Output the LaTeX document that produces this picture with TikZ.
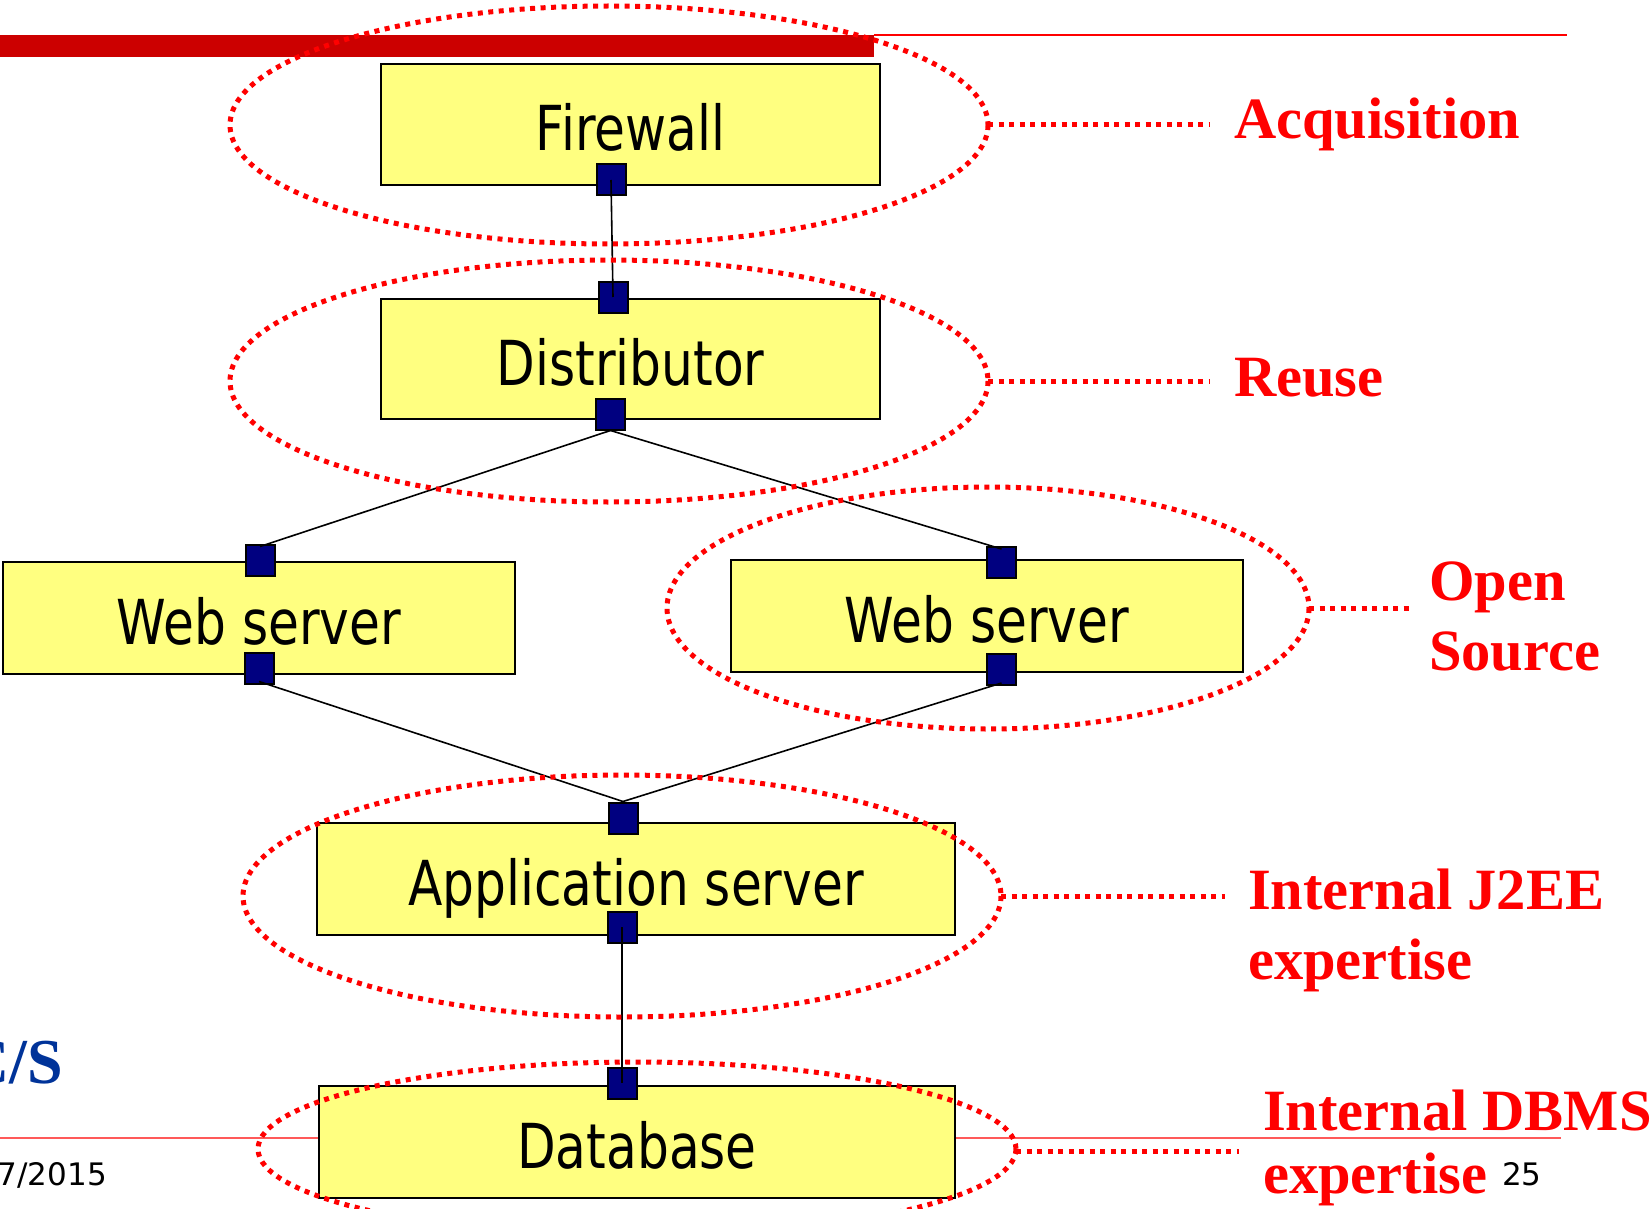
\documentclass[tikz,border=0pt]{standalone}
\usepackage{fontspec}
\setmainfont{Liberation Serif}
\newfontfamily\boxfont{DejaVu Sans}
\definecolor{boxfill}{HTML}{FFFF80}
\definecolor{portfill}{HTML}{000080}
\definecolor{barred}{HTML}{CC0000}
\definecolor{slideblue}{HTML}{003399}
\tikzset{
  tier/.style={draw=black, line width=2.5pt, fill=boxfill, rectangle, inner sep=0pt},
  tiertext/.style={anchor=base, inner sep=0pt, font=\boxfont\fontsize{62pt}{70pt}\selectfont},
  port/.style={draw=black, line width=2pt, fill=portfill, rectangle, inner sep=0pt,
    minimum width=29pt, minimum height=31pt},
  wire/.style={draw=black, line width=1.6pt},
  group/.style={draw=red, line width=5pt, dash pattern=on 5pt off 5.5pt},
  note/.style={anchor=base west, inner sep=0pt, text=red, align=left,
    font=\bfseries\fontsize{58.5pt}{70pt}\selectfont},
  foot/.style={inner sep=0pt, font=\boxfont\fontsize{31pt}{36pt}\selectfont}
}
\begin{document}
\begin{tikzpicture}[x=1pt,y=-1pt]
\useasboundingbox (0,0) rectangle (1651,1209);

% slide header and footer rules
\fill[barred] (0,35) rectangle (874,57);
\draw[red, line width=1.5pt] (874,35) -- (1567,35);
\draw[red!65, line width=1.5pt] (0,1138) -- (1561,1138);

% footer texts
\node[anchor=base east, inner sep=0pt, text=slideblue,
  font=\bfseries\fontsize{64pt}{70pt}\selectfont] (logo) at (63,1083) {C/S};
\node[foot, anchor=base east] (date) at (107,1185) {7/2015};
\node[foot, anchor=base west] (page) at (1502,1185) {25};

% tiers
\node[tier, minimum width=499pt, minimum height=121pt] (fw) at (630.5,124.5) {};
\node[tier, minimum width=499pt, minimum height=120pt] (di) at (630.5,359) {};
\node[tier, minimum width=512pt, minimum height=112pt] (w1) at (259,618) {};
\node[tier, minimum width=512pt, minimum height=112pt] (w2) at (987,616) {};
\node[tier, minimum width=638pt, minimum height=112pt] (ap) at (636,879) {};
\node[tier, minimum width=636pt, minimum height=112pt] (db) at (637,1142) {};

\node[tiertext] (fw-t) at (630.5,150.5) {\scalebox{0.81}[1]{Firewall}};
\node[tiertext] (di-t) at (630.5,385) {\scalebox{0.81}[1]{Distributor}};
\node[tiertext] (w1-t) at (259,644) {\scalebox{0.81}[1]{Web server}};
\node[tiertext] (w2-t) at (987,642) {\scalebox{0.81}[1]{Web server}};
\node[tiertext] (ap-t) at (636,905) {\scalebox{0.81}[1]{Application server}};
\node[tiertext] (db-t) at (637,1168) {\scalebox{0.81}[1]{Database}};

% ports
\node[port] (fw-b) at (611,180) {};
\node[port] (di-n) at (613,297) {};
\node[port] (di-s) at (610.5,414) {};
\node[port] (w1-n) at (260,560) {};
\node[port] (w1-s) at (259,668) {};
\node[port] (w2-n) at (1001.5,562.5) {};
\node[port] (w2-s) at (1001.5,669.5) {};
\node[port] (ap-n) at (623,818) {};
\node[port] (ap-s) at (622,927) {};
\node[port] (db-n) at (622,1083) {};

% links between ports
\draw[wire] (fw-b.center) -- (di-n.center);
\draw[wire] (ap-s.center) -- (db-n.center);
\draw[wire] (di-s.south) -- ([yshift=-3pt]w1-n.north);
\draw[wire] (di-s.south) -- ([yshift=-3pt]w2-n.north);
\draw[wire] ([yshift=3pt]w1-s.south) -- (ap-n.north);
\draw[wire] ([yshift=3pt]w2-s.south) -- (ap-n.north);

% sourcing groups
\draw[group] (609,125) ellipse [x radius=379, y radius=119];
\draw[group] (609,381) ellipse [x radius=379, y radius=121];
\draw[group] (988,608) ellipse [x radius=321, y radius=121];
\draw[group] (622,896) ellipse [x radius=379, y radius=121];
\draw[group] (637,1149) ellipse [x radius=379, y radius=87];

\coordinate (g1) at (988,125);
\coordinate (g2) at (988,381);
\coordinate (g3) at (1309,608);
\coordinate (g4) at (1001,896);
\coordinate (g5) at (1016,1151);

\node[note] (acq) at (1234,139) {Acquisition};
\node[note] (reu) at (1234,396) {Reuse};
\node[note] (oss) at (1429,670) {Open\\Source};
\node[note] (j2e) at (1248,979) {Internal J2EE\\expertise};
\node[note, font=\bfseries\fontsize{58.5pt}{63pt}\selectfont] (dbm) at (1263,1193) {Internal DBMS\\expertise};

\draw[group] (g1) -- (1209,125);
\draw[group] (g2) -- (1209,381);
\draw[group] (g3) -- (1409,608);
\draw[group] (g4) -- (1225,896);
\draw[group] (g5) -- (1239,1151);
\end{tikzpicture}
\end{document}
